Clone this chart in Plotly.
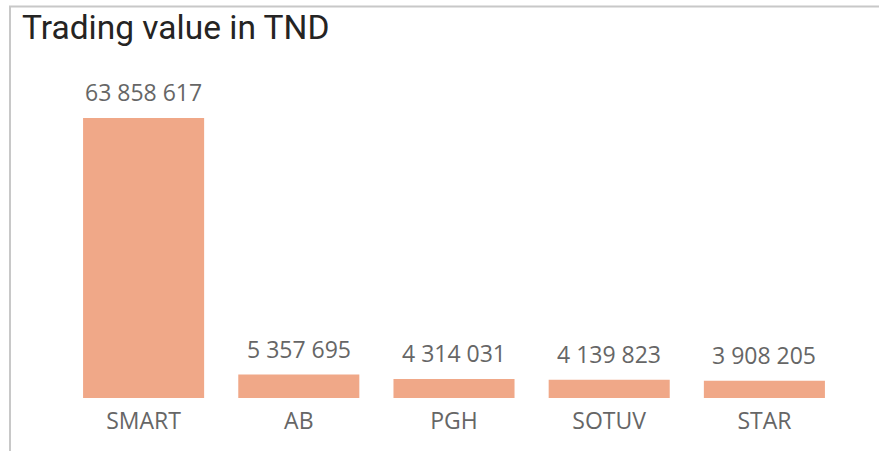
import plotly.graph_objects as go

categories = ["SMART", "AB", "PGH", "SOTUV", "STAR"]
values = [63858617, 5357695, 4314031, 4139823, 3908205]
title_text = "Trading value in TND"

W, H = 879, 451
ML, MR, MT, MB = 66, 37, 118, 53
pw = W - ML - MR
ph = H - MT - MB

def px_x(p):
    return (p - ML) / pw

def px_y(p):
    return 1 - (p - MT) / ph

fig = go.Figure(go.Bar(
    x=categories, y=values,
    marker=dict(color="#F0A888", line=dict(width=0)),
    cliponaxis=False,
    hoverinfo="skip",
))

for c, v in zip(categories, values):
    fig.add_annotation(
        x=c, y=v, xref="x", yref="y",
        text=f"{v:,}".replace(",", " "),
        showarrow=False, yanchor="bottom", xanchor="center", yshift=8,
        font=dict(family="Open Sans", size=23, color="#666666"),
    )

fig.update_layout(
    width=W, height=H,
    margin=dict(l=ML, r=MR, t=MT, b=MB, pad=0),
    paper_bgcolor="white", plot_bgcolor="white",
    bargap=0.22,
    showlegend=False,
    title=dict(text=title_text, x=22 / W, xanchor="left", xref="container",
               y=1 - 27.5 / H, yanchor="middle", yref="container",
               font=dict(family="Roboto", size=33.5, color="#252423")),
    xaxis=dict(showgrid=False, showline=False, zeroline=False, ticks="",
               tickfont=dict(family="Open Sans", size=23, color="#666666"),
               ticklabelstandoff=7),
    yaxis=dict(visible=False, range=[0, max(values)]),
    shapes=[
        dict(type="line", xref="paper", yref="paper",
             x0=px_x(9), x1=px_x(879), y0=px_y(6.5), y1=px_y(6.5),
             line=dict(color="#C8C8C8", width=2)),
        dict(type="line", xref="paper", yref="paper",
             x0=px_x(10), x1=px_x(10), y0=px_y(6.5), y1=px_y(451),
             line=dict(color="#C8C8C8", width=2)),
    ],
)

fig.write_html("out.html", config={"displayModeBar": False, "staticPlot": True},
               post_script="document.body.style.margin='0';")
